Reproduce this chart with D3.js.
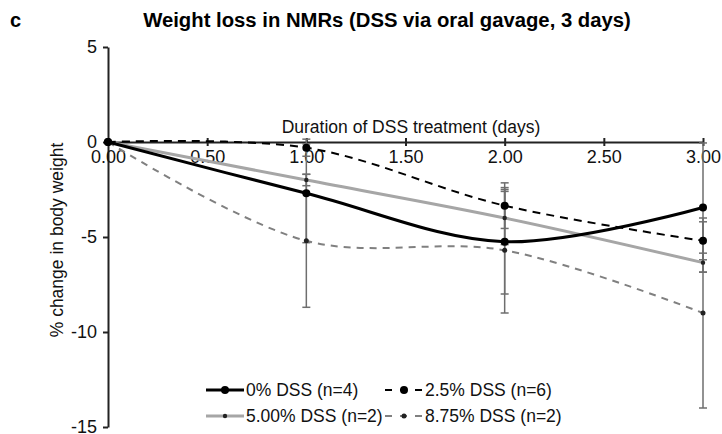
<!DOCTYPE html>
<html>
<head>
<meta charset="utf-8">
<script src="https://cdn.jsdelivr.net/npm/d3@7.9.0/dist/d3.min.js"></script>
<style>
  body { margin: 0; background: #fff; }
  svg { font-family: "Liberation Sans", Arial, sans-serif; }
</style>
</head>
<body>
<div id="chart"></div>
<script>
const width = 722;
const height = 434;

// data
const days = [0, 1, 2, 3];
const xTicks = [0, 0.5, 1, 1.5, 2, 2.5, 3];
const yTicks = [5, 0, -5, -10, -15];

const names = ["0% DSS (n=4)", "2.5% DSS (n=6)", "5.00% DSS (n=2)", "8.75% DSS (n=2)"];
const dss0 = [0, -2.7, -5.25, -3.45];
const dss25 = [0, -0.3, -3.35, -5.2];
const dss5 = [0, -2.0, -4.0, -6.35];
const dss875 = [0, -5.2, -5.7, -9.0];
const err0 = [0, 2.6, 2.75, 3.4];
const err25 = [0, 0.45, 1.2, 1.0];
const err5 = [0, 0.3, 1.4, 0.5];
const err875 = [0, 3.5, 3.3, 5.0];

const styles = [
  { color: "#000", width: 3, dash: null, r: 4 },
  { color: "#000", width: 2, dash: "8,6", r: 4 },
  { color: "#a6a6a6", width: 3, dash: null, r: 2.2 },
  { color: "#808080", width: 2, dash: "7,6", r: 2.5 },
];

const series = [dss0, dss25, dss5, dss875].map((vals, i) => ({
  name: names[i],
  style: styles[i],
  points: days.map((d, j) => ({ x: d, y: vals[j], e: [err0, err25, err5, err875][i][j] })),
}));

const x = d3.scaleLinear().domain([0, 3]).range([108, 703]);
const y = d3.scaleLinear().domain([-15, 5]).range([427, 47]);

const svg = d3.select("#chart").append("svg")
  .attr("width", width)
  .attr("height", height);

// title
svg.append("text")
  .attr("x", 10).attr("y", 27)
  .attr("font-size", 20).attr("font-weight", "bold")
  .text("c");
svg.append("text")
  .attr("x", 387).attr("y", 27)
  .attr("text-anchor", "middle")
  .attr("font-size", 20.3).attr("font-weight", "bold")
  .text("Weight loss in NMRs (DSS via oral gavage, 3 days)");

// y axis
const yAxis = svg.append("g")
  .attr("transform", `translate(${x(0)},0)`)
  .call(d3.axisLeft(y).tickValues(yTicks).tickFormat(d => String(d))
    .tickSize(5).tickSizeOuter(0).tickPadding(6));
yAxis.select(".domain").attr("stroke", "#222").attr("stroke-width", 2);
yAxis.selectAll(".tick line").attr("stroke", "#222").attr("stroke-width", 2);
yAxis.selectAll(".tick text").attr("font-size", 18).attr("fill", "#111")
  .attr("font-family", "Liberation Sans, Arial, sans-serif");

// x axis at y = 0
const xAxis = svg.append("g")
  .attr("transform", `translate(0,${y(0)})`)
  .call(d3.axisBottom(x).tickValues(xTicks).tickFormat(d3.format(".2f")).tickSize(4).tickSizeOuter(0).tickPadding(4));
xAxis.select(".domain").attr("stroke", "#222").attr("stroke-width", 2);
xAxis.selectAll(".tick line").attr("stroke", "#222").attr("stroke-width", 2).attr("y1", -4).attr("y2", 4);
xAxis.selectAll(".tick text").attr("font-size", 18).attr("fill", "#111")
  .attr("font-family", "Liberation Sans, Arial, sans-serif");

svg.append("text")
  .attr("x", 411).attr("y", 133)
  .attr("text-anchor", "middle")
  .attr("font-size", 17.5).attr("fill", "#111")
  .text("Duration of DSS treatment (days)");

svg.append("text")
  .attr("transform", `translate(63,${240}) rotate(-90)`)
  .attr("text-anchor", "middle")
  .attr("font-size", 17.5).attr("fill", "#111")
  .text("% change in body weight");

// error bars
const eb = svg.append("g").attr("stroke", "#6e6e6e").attr("stroke-width", 1.5);
series.forEach(s => {
  s.points.filter(p => p.e > 0).forEach(p => {
    eb.append("line")
      .attr("x1", x(p.x)).attr("x2", x(p.x))
      .attr("y1", y(p.y + p.e)).attr("y2", y(p.y - p.e));
    [p.y + p.e, p.y - p.e].forEach(v => {
      eb.append("line")
        .attr("x1", x(p.x) - 4).attr("x2", x(p.x) + 4)
        .attr("y1", y(v)).attr("y2", y(v));
    });
  });
});

// lines
const line = d3.line()
  .curve(d3.curveCatmullRom.alpha(0.5))
  .x(d => x(d.x))
  .y(d => y(d.y));

// draw in reverse order so black lines sit on top
[3, 2, 1, 0].forEach(i => {
  const s = series[i];
  svg.append("path")
    .datum(s.points)
    .attr("fill", "none")
    .attr("stroke", s.style.color)
    .attr("stroke-width", s.style.width)
    .attr("stroke-dasharray", s.style.dash)
    .attr("d", line);
});
[3, 2, 1, 0].forEach(i => {
  const s = series[i];
  svg.append("g").selectAll("circle")
    .data(s.points)
    .join("circle")
    .attr("cx", d => x(d.x))
    .attr("cy", d => y(d.y))
    .attr("r", s.style.r)
    .attr("fill", i >= 2 ? "#222" : "#000");
});

// legend
const legendPos = [
  { lx: 206, ly: 390 }, { lx: 385, ly: 390 },
  { lx: 206, ly: 416 }, { lx: 385, ly: 416 },
];
series.forEach((s, i) => {
  const p = legendPos[i];
  const g = svg.append("g").attr("transform", `translate(${p.lx},${p.ly})`);
  g.append("line")
    .attr("x1", 0).attr("x2", 38)
    .attr("stroke", s.style.color)
    .attr("stroke-width", s.style.width)
    .attr("stroke-dasharray", s.style.dash ? "7,8" : null);
  g.append("circle").attr("cx", 19).attr("r", s.style.r).attr("fill", i >= 2 ? "#222" : "#000");
  g.append("text")
    .attr("x", 40).attr("y", 6)
    .attr("font-size", 17.5).attr("fill", "#111")
    .text(s.name);
});
</script>
</body>
</html>
